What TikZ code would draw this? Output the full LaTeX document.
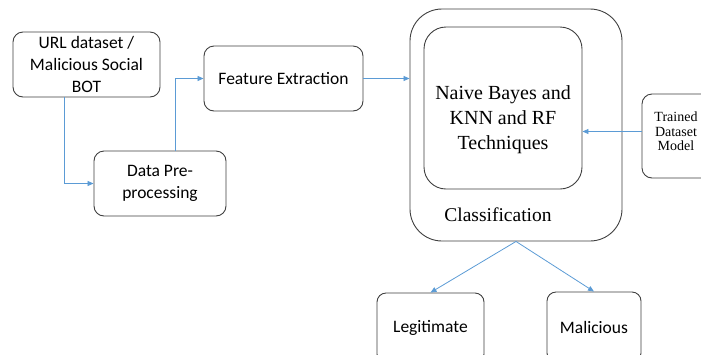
\documentclass[tikz,border=0pt]{standalone}
\usepackage{fontspec}
\setmainfont{Liberation Serif}
\newfontfamily\bodysans{Carlito}
\usetikzlibrary{arrows.meta, positioning, calc}
\definecolor{flowblue}{HTML}{5B9BD5}
\definecolor{edgegray}{HTML}{3F3F3F}

\begin{document}
\begin{tikzpicture}[
    x=1pt, y=-1pt,
    box/.style={draw=edgegray, line width=0.9pt, rounded corners=10pt, align=center, inner sep=0pt,
      font=\bodysans\fontsize{17.5}{22}\selectfont},
    flow/.style={draw=flowblue, line width=0.8pt, -{Triangle[length=6pt,width=5pt]}},
]
    \clip (0,0) rectangle (701,354);

    % Input and preprocessing
    \node[box, minimum width=147pt, minimum height=65pt] (url) at (86.5,64.5) {URL dataset /\\Malicious Social\\BOT};
    \node[box, minimum width=132pt, minimum height=65pt] (prep) at (160,183.5) {Data Pre-\\processing};
    \node[box, minimum width=159pt, minimum height=65pt] (feat) at (283.5,78.5) {Feature Extraction};

    % Classifier block
    \node[box, rounded corners=32pt, minimum width=212pt, minimum height=232pt] (cls) at (516,125) {};
    \node[box, rounded corners=22pt, minimum width=158pt, minimum height=162pt] (tech) at (503,108) {};
    \node[font=\fontsize{20}{25}\selectfont, align=center] (techtxt) at (503,120) {Naive Bayes and\\KNN and RF\\Techniques};
    \node[font=\fontsize{19.5}{24}\selectfont] (clstxt) at (498,215) {Classification};

    % Trained model, cut by the page edge
    \node[box, minimum width=100pt, minimum height=84pt] (trained) at (692,136) {};
    \node[font=\fontsize{14}{14.5}\selectfont, align=center] (trtxt) at (676,131.5) {Trained\\Dataset\\Model};

    % Outputs
    \node[box, rounded corners=9pt, minimum width=107pt, minimum height=70pt] (leg) at (430.5,328) {Legitimate};
    \node[box, rounded corners=9pt, minimum width=94pt, minimum height=70pt] (mal) at (594,327) {Malicious};

    % Arrows
    \draw[flow] ([xshift=-22.5pt]url.south) |- (prep.west);
    \draw[flow] ([xshift=15.7pt]prep.north) |- (feat.west);
    \draw[flow] (feat.east) -- (feat.east -| cls.west);
    \draw[flow] ([yshift=4.5pt]trained.west) -- ([yshift=4.5pt]trained.west -| tech.east);
    \draw[flow] (cls.south) -- (leg.north);
    \draw[flow] (cls.south) -- (mal.north);
\end{tikzpicture}
\end{document}
